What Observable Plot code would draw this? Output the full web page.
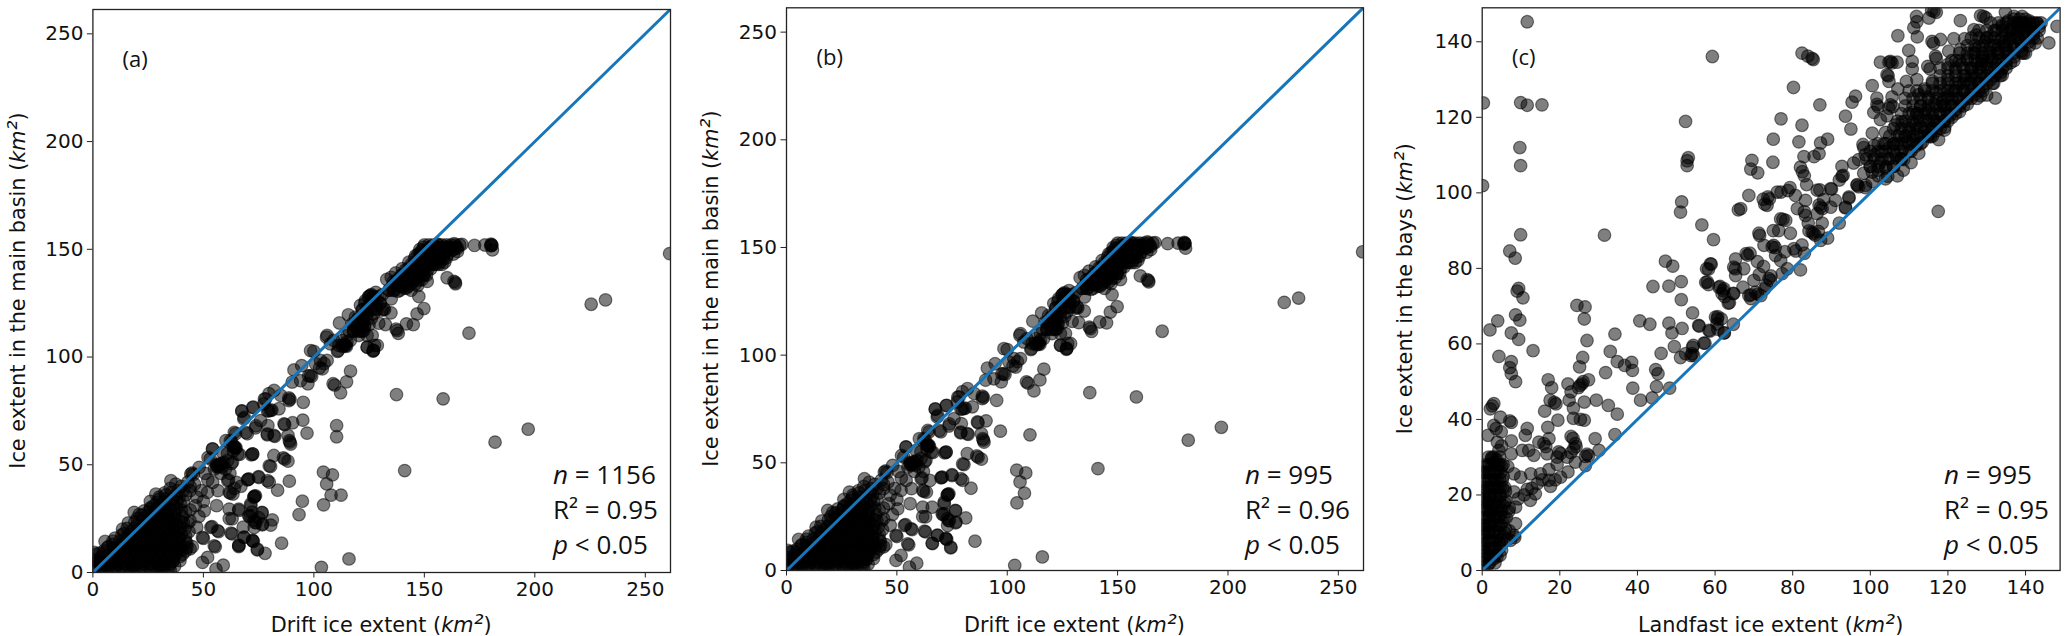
<!DOCTYPE html>
<html><head><meta charset="utf-8">
<script src="https://cdn.jsdelivr.net/npm/d3@7"></script>
<script src="https://cdn.jsdelivr.net/npm/@observablehq/plot@0.6"></script>
<style>
html,body{margin:0;padding:0;background:#fff;overflow:hidden}
#fig{position:relative;width:2067px;height:636px}
#fig svg{position:absolute;top:0;background:#fff;overflow:visible}
</style></head><body><div id="fig"></div>
<script>
// ---- Panels (a) and (b): [drift ice extent, ice extent in the main basin] ----
const driftOutliers = [[261,148],[225.5,124.5],[232,126.5],[170.2,111.1],[197,66.5],[182,60.5],[158.5,80.6],[137.4,82.6],[141.1,47.3],[115.9,6.3],[103.4,2.4],
 [172.7,151.8],[177.4,152],[180.4,152],[180.2,152.4],[180.6,151.8],[180,151.6],[180.8,149.7],[116.6,93.5],[114.8,88.5],[109.4,87],[112.1,83.4],[95.2,79],[110.3,63],[96.9,64.7],[104.3,46.6],[108.4,45.3],[105.8,41.1],[107.8,35.9],[104.4,31.4],
 [160.3,136.8],[163.4,135.1],[164,134.6],[164.1,134],[151.3,135.1],[147,133.2],[147.5,128.1],[149.8,122.5],[146.7,120],[145,115],[141.9,115.4],[137.7,112.3],[138.2,111],[137.2,113],[132.4,115.1],[129.4,115.7],[135,127],[127.4,105.4],[126.8,102.7],[127,103.2],[124.1,104.6]];
const driftCloud = [[90.4,69.5],[86.5,69],[86.8,68.6],[88.7,79.8],[89.2,80.4],[81.9,63.6],[82.3,63.2],[78.9,63.9],[88.3,63.6],[89.2,60.5],[89.5,59.6],[88.9,61.2],[81.9,54.3],[86.2,53.2],[86.8,52.6],[88.3,51.7],[80.4,49.2],[71.7,54.6],[72.3,55],[79.8,41.9],[75,44.5],[70.2,43.2],[70.6,43.4],[83.6,38.2],[73.2,35.3],[72.8,34.9],[73.6,35.6],[71.4,31.8],[76.6,27.7],[81.2,24.4],[72.9,24.1],[73.4,23.2],[76.6,22.1],[71.4,26.4],[63,24.9],[85.4,13.6],[72.6,14.4],[72.2,15],[68.3,16.4],[74.4,10.5],[66.1,12.5],[63,17.9],
 [98.5,103],[106,98.4],[111,103],[103.8,94.5],[99,91],[97.3,87.6],[94,89],[91,94],[90.2,88.4],[82,84.5],[78.2,80.6],[80.4,75.2],[79.6,75],[81,75.4],[67.4,74.9],[72.6,76.7],[68.3,71.3],[73.6,67.1],[69.9,64.4],[64.6,64.4],[114.4,105.4],[114.8,105],[113.9,105.8],[126.9,103],[124.2,104.6],[128.7,105.4],[79.7,83],[85,82.2],[88.7,81],[77.4,78.3],[84.2,76],[75.9,70.5],[79.2,68.2],[97.6,91.3],[100,102.6],[104.6,97],[102.6,95],[94.5,96],[108.7,87.6],[105.7,109.2],[111.6,115.8],[115.6,119.6],[112.7,105.5],[113.2,104.8],[110.7,102.6],
 [125.6,128.6],[126,129],[128.6,126.2],[131.6,122.4],[132,122],[131,121.8],[127.9,122.4],[124.8,128],[123.3,126.2],[121.1,124],[122.6,118.5],[121.1,115.4],[122.6,112.3],[119.6,113.9],[124.1,110],[126.4,110],[120.3,110],[117.3,115.4],[118.8,118.5],[115,110],[114.3,105.4],[112.8,107.7],[116.5,107.7],[115,107],[109,107.7],[106,110],[107.5,106.1],[111.3,105.4],[103,98.4],[100.7,96.9],[98.4,91.4],[121.8,114.9],[122.2,115.5],[121.4,114.3],[122,117],[120,117.5],[124,120],[126,118],[118,112],[119,115],[123,114],[121,112],[134.9,120.5],[128,124],[130,125],[125,124],[122,122],[127,120]];
const driftLow = [[72.3,76.6],[67.4,75],[77.6,80.5],[79,75],[68.5,72],[73.8,68.1],[69.3,65],[79,64.3],[60.2,61.2],[64,65],[54.2,57.3],[58.7,55.7],[64,58],[64.4,57.6],[63.6,58.2],[72.3,55],[66.4,54.8],[56.4,49.5],[56.8,49],[55.9,50],[57.2,49.9],[62.7,50.5],[63.2,51.3],[52.1,53.4],[48.1,48.8],[44.3,45.7],[44.9,46.2],[45.5,45.5],[79.8,49.5],[70,43],[75,44.1],[79,42.6],[54.2,41.8],[61,42.6],[61.4,43],[65,41.8],[35.3,42.6],[56.6,38],[61.7,37.2],[62.2,36.8],[51.9,37.2],[63.4,36.4],[73,35.3],[71.5,31],[56,31],[50.4,28.6],[61.7,29.4],[66,29.4],[76.5,27.9],[70.5,26.3],[70.9,25.9],[61.7,25],[73.8,23.2],[76.8,22.5],[73,20.9],[53.4,20.9],[53.9,21.3],[56.4,19.4],[56.9,19],[62.5,18.3],[68.5,16.3],[72.3,14.7],[66,12.7],[49.6,16.3],[50,15.8],[54.9,12.4],[55.4,11.9],[74.5,10.8],[51.9,7],[49.6,4.7],[59,3.4],[55.7,1.6],
 [62.2,61.2],[62.8,60.6],[64.2,58.4],[64.8,57.8],[65.6,55],[63.6,56.4],[60.9,55.2],[54.1,57.4],[53.1,52.7],[58.2,50.3],[60,48],[58,46],[62,46],[50.8,46],[52,43],[46,41],[49,38],[47,35],[50,33],[46.4,31],[44,29],[48,26],[44,24],[47,21],[43.5,19],[42,36],[44,38],[41,33],[40,40],[38,36],[42,28],[56,49],[57.5,50.5],[58.5,49],[55,48],[59,51],[61,52]];
const driftBlob = [[0.6,9.3],[5.5,14.4],[13.4,20.1],[18.7,27.9],[23.2,28.6],[28.5,36.4],[26,33],[30,35],[21,27],[16,23],[10,16],[7,12],[3,9],[1,6],[0.8,3],[3,4],[2,1.5],[5,1],[5.5,4],[4,7],[7,7.5],[8,1.2],[8.2,4],[9.8,7],[11,1],[11,3.8],[10,10.4],[12.5,7],[13.8,1.4],[14,4],[13,10],[12.8,13],[15.5,7.2],[17,1],[16.8,4],[16,10],[15.8,13],[15,16],[18.5,7],[20,1.3],[19.8,4],[19,10.2],[18.7,13],[18,16],[17.5,19],[21.5,7],[23,1],[23,4],[22,10],[21.6,13],[21,16],[20.5,19],[20,22],[24.5,7],[26,1.2],[25.8,4],[25,10],[24.7,13],[24,16],[23.5,19],[23,22],[22.5,25],[27.5,7],[29,1],[29,4],[28,10],[27.6,13],[27,16],[26.5,19],[26,22],[25.5,25],[25,28],[30.5,7],[32,1.2],[31.8,4],[31,10],[30.7,13],[30,16],[29.5,19],[29,22],[28.5,25],[28,28],[27.5,31],[33.5,7],[35,1.3],[34.8,4],[34,10],[33.6,13],[33,16],[32.5,19],[32,22],[31.5,25],[31,28],[30.5,31],[30,34],[36.5,7],[37,3],[37,10],[36.6,13],[36,16],[35.5,19],[35,22],[34.5,25],[34,28],[33.5,31],[33,34],[32.5,37],[39.5,7.5],[40,10.4],[39.5,13],[39,16],[38.5,19],[38,22],[37.5,25],[37,28],[36.5,31],[36,34],[35.5,37],[35,39],[42,10],[44,11],[42.5,13.5],[42,17],[41.5,20],[41,23],[40.5,26],[40,29],[39.5,32],[39,35],[38.5,38],[43,23],[45,12],[37.5,41],[41,38],[43,42],[44,40],[33,36],[26,30],[20,25],[14,18],[9,13],[5,10],[2,5],[6,3],[12,5],[18,3],[24,5],[30,3],[36,5],[15,11],[21,12],[27,11],[33,12],[39,11],[19,17],[25,18],[31,17],[37,18],[24,22],[30,23],[36,23],[28,26],[34,27],[32,31]];
// the solid black wedge near the origin, read as rows: [y, [x, x, ...]]
const driftBlobRows = [
 [2.5,[1.5,4.6,7.4,10.5,13.3,16.6,19.4,22.7,25.5,28.4,31.6,34.5]],
 [5.5,[2.5,6.4,9.6,12.4,15.6,18.5,21.3,24.6,27.5,30.4,33.6,36.5,39.4]],
 [8.5,[1.5,4.4,7.6,10.5,13.4,16.6,19.5,22.4,25.6,28.5,31.4,34.6,37.5,40.6]],
 [11.5,[6.6,9.4,12.5,15.6,18.4,21.5,24.6,27.4,30.5,33.6,36.4,39.5,42.6]],
 [14.5,[9,12.1,15,17.9,21,24.1,27,30,32.9,36,39.1,42]],
 [17.5,[13.1,16,19,21.9,25,28.1,31,34,36.9,40]],
 [20.5,[15.5,18.6,21.5,24.4,27.5,30.6,33.5,36.4,39.5]],
 [23.5,[19,22.1,25,28,30.9,34,37.1,40]],
 [26.5,[22,25.1,28,31,33.9,37]],
 [29.5,[26,29.1,32,34.9,38]],
 [32.5,[29,32.1,35,38]]];
const driftTop = [[150,152],[152,152],[154,152],[156,152],[158,152],[160,152],[162,152],[164,152],[166,152],[167,152.3],[163.5,152.6],[155,150],[158,150],[161,150],[163,150],[165,150.5],[150,149],[153,148],[156,148],[159,148],[148,147],[151,146],[154,146],[157,146],[160,146],[146,144],[149,144],[152,144],[155,143],[158,143],[144,142],[147,141],[150,141],[153,141],[142,140],[145,139],[148,138],[151,138],[140,138],[143,137],[146,136],[149,136],[138,136],[141,135],[144,134],[136,135],[139,133],[142,132],[135,137],[137,139],[140,141],[143,144],[146,147],[148,150],[152,150],[165,149],[163.2,147.8],[159.2,144],[157,144],[154.5,149],[151,148],[149,146],[147,143],[145,141],[143,140],[141,138],[139,136],[137,134.5],[153,150.8],[156,150.6],[159,150.4],[155,145],[153,143],[150,138],[148,140],[146,134],[144,131],[141,132],[138,130.5],[136,131],[134,131],[133,136],[131,129],[128,130],[127,128],[148,148.5],[156,152.4],[160,151],[157,149]];
const driftTopRows = [
 [151,[149.5,152.5,155.5,158.5,161.5,164.5]],
 [149.5,[149,151.5,154,157,160,162.5]],
 [147.5,[147,149.5,152,155,158,160.5]],
 [145.5,[145.5,148,150.5,153,156,158.5]],
 [143,[144,146.5,149,151.5,154,156.5]],
 [140.5,[141.5,144,146.5,149,151.5]],
 [138,[139.5,142,144.5,147,149.5]],
 [135.5,[137.5,140,142.5,145,147.5]],
 [133,[135.5,138,140.5,143]],
 [131,[134,136.5,139]],
 [128,[125,127,129]],
 [125,[123,125.5,127.5,130]],
 [122,[122,124,126,128.5]],
 [118,[120,122,124]],
 [115,[118,120,123,125]],
 [112,[116,118,120,122]]];
// points plotted only in panel (a), which has 161 more dates than panel (b)
const driftOnlyA = [[110.3,68.2],[95,70.7],[93.3,26.9],[94.8,33.1],[112.3,35.9],[66.1,28.8],[88.9,42.4],[77.9,8.9],[68,21],[66,12],[80.5,22],[75,25.5],[72,28],[64,39],[67,40]];

// ---- Panel (c): [landfast ice extent, ice extent in the bays] ----
const landfastSparse = [[11.6,145.3],[59.3,136.1],[82.4,137],[83.9,136.2],[85,135.6],[85.3,135.3],[80.2,127.9],[0.3,123.8],[9.9,123.9],[11.6,123.2],[15.4,123.3],[9.7,112],[9.9,107.2],[0.1,101.9],[9.9,88.9],[31.5,88.8],[7.1,84.6],[8.5,82.7],[9.4,74.7],[9,74],[10.5,72.2],[8.6,67.7],[9.7,66.3],[4,66.1],[2,63.7],[7.5,62.9],[9.4,61.2],[13.1,58.2],[4.3,56.7],[7.5,55.3],[7.1,53.7],[7.5,52.1],[8.6,50],
 [52.4,118.9],[53.1,109.3],[52.8,108.5],[52.8,107.2],[51.4,97.6],[51.1,94.9],[56.6,91.5],[59.6,87.6],[47.2,81.9],[49.1,80.6],[59,81.1],[58.3,79.8],[57.6,76.3],[58.3,75.7],[51.3,76.5],[44,75.2],[48.1,75.3],[51.3,71.7],[61.3,75.2],[62.1,74.1],[62.5,72.5],[63.7,70.9],[64.7,73.4],[54.2,68.2],[40.6,66.1],[43.2,65.2],[48.1,65.5],[51.5,64.1],[48.9,62.9],[55.9,64.7],[58.7,63.4],[60.7,67.2],[61.6,66.6],[60.7,63.9],[62.4,62.9],[64.7,65.2],[49.5,59.3],[51.1,56.4],[54.2,59.1],[54.5,56.9],[57.4,60.2],[46.1,57.5],[34.2,62.6],[33,58],[31.8,52.4],[34.8,55.3],[36.7,54.3],[38.5,55.1],[38.7,53],[44.7,53.2],[45.3,52.1],[44.9,48.7],[48.3,48.3],[38.8,48.3],[40.8,45.1],[43.8,45.7]];
const landfastLow = [[24.4,70.2],[26.5,69.8],[26.3,66.6],[27,60.9],[25.9,56.4],[25.1,53.9],[17,50.5],[17.9,48.4],[22.1,49.4],[25.7,49.4],[25.2,49],[24.8,48.4],[26,50],[27.4,50.5],[22.9,47.3],[29.4,45.1],[32.5,43.7],[34.8,41.4],[16.1,42.2],[17.5,45.1],[19,44.1],[18.6,44.5],[19.5,39.8],[16.9,37.9],[22.4,45.1],[26.3,44.6],[23.5,43],[23.5,40.3],[26.3,39.8],[25.3,40],[22.9,35.5],[23.4,35],[34.2,36],[29.1,34.9],[11.6,37.6],[11.1,35.8],
 [2.1,42.8],[3,44.2],[2.6,43.6],[4.7,40.6],[7.1,39.6],[7.5,39.2],[3,38.4],[4.9,36.7],[3.6,37.6],[1.5,35.8],[7.5,34.3],[3.9,34],[4.3,31.8],[5,33],[2.5,30],[14.6,34],[17.2,34.9],[15.9,33.6],[16.4,32.8],[12,31.8],[10.3,31.8],[13.3,30.5],[7.5,30.9],[16.7,30.9],[19.7,31.4],[20.2,31],[19.3,30],[21.9,30],[23.6,32.3],[24,33.6],[24.2,32.8],[22.9,31.2],[27,30.8],[26.6,30.2],[27.4,30.4],[30.1,31.8],[24,28.7],[26.6,27.8],[8.2,25.6],[9.9,24.7],[12.5,25.6],[15,25.6],[17.2,26.7],[19.3,28.1],[22.1,26.1],[20.2,24.7],[17.2,23.9],[17.6,22.3],[14.2,23],[11.6,21.5],[8.2,20.8],[13.7,20.3],[12.4,18.6],[8.6,16.8],[7,16.5],[8.6,12.4],[8.2,9.3],[8.4,8.8],[7.3,8],[12.8,21.8],[10.8,20],[9.3,19],[15.5,24],[18.8,24]];
const landfastColumn = [[0.5,1],[1.5,1.5],[2.8,3],[0.3,3],[1.6,3.6],[0.6,5],[2,5.5],[3.5,5.8],[4.4,7],[0.2,7],[1.4,7.6],[2.8,8],[4,9],[5.4,9],[0.5,9.5],[1.8,10],[3.2,10.5],[0.3,12],[1.4,12],[2.6,12.5],[4.2,12],[5.2,12.8],[6,11],[0.5,14],[1.9,14.4],[3.4,14.6],[4.8,15],[6.2,14],[0.2,16.5],[1.2,16.4],[2.6,17],[4,17],[5.4,17.2],[0.4,19],[1.8,19],[3.2,19.4],[4.6,19.6],[6,18.5],[0.2,21],[1.2,21.4],[2.6,21.6],[4,21.6],[5.2,22],[0.5,23.5],[1.8,24],[3.2,24],[4.5,24.2],[6,21],[0.3,26],[1.4,26],[2.8,26.4],[4,26.5],[5.4,25],[1.8,28],[3.2,28.4],[4.4,28.2],[2.4,29.6],[3.6,29.4],[5,27.6],[0.8,27.5],[6.6,27.5],[1,11],[2.2,15.6],[3,22.5],[1.4,18],[3.8,3.6],[5,5.4],[6.4,8.2],[7,10.5],[6.8,15.6]];
const landfastColumnRows = [
 [2,[0.4,1.9,3.3]],[4,[0.6,2.1,3.4,4.6]],[6,[0.3,1.7,3,4.4]],[8,[0.5,2,3.6,5]],[10,[0.3,1.4,2.8,4.4,5.8]],
 [12,[0.6,2,3.4,4.8]],[14,[0.3,1.5,2.7,4.2,5.6]],[16,[0.6,2.2,3.6,5]],[18,[0.4,1.6,3,4.4,5.8]],[20,[0.5,2,3.4,4.8]],
 [22,[0.3,1.6,3.2,4.6,5.8]],[24,[0.6,2.4,3.8,5.2]],[26,[0.4,2,3.4,4.8]],[28,[1,2.6,4,5.4]],[30,[1.6,3,4.5]]];
const landfastMid = [[68.7,99.3],[66.6,95.8],[73.6,98.9],[74,98.4],[73.4,96.7],[76,100.2],[79.3,101.4],[80.7,99.3],[81.2,95.8],[83.3,98],[83.3,94],[86.3,100.7],[87.2,96.2],[87.6,95.8],[86.8,96.8],[86.3,94.5],[89.8,101.1],[89.8,96.2],[93.6,96.2],[94.5,98.9],[96.6,102],[97,101.6],[98.8,102],[76.9,93.1],[78.2,92.7],[71.3,89.3],[71.5,88.7],[76.4,90],[79.4,89.3],[85,89.6],[85.4,89.2],[84.2,89.9],[85.8,88.8],[86.6,89.8],[87.2,87.4],[75.1,86.1],[75.5,85.5],[74.7,85.7],[80.3,85.2],[80.8,84.6],[72.6,86.1],[82.4,86.2],[76.9,82.1],[75.6,83.4],[68,83.9],[68.4,83.5],[65.3,82.5],[64.8,80.3],[65.2,79.9],[67.4,79.9],[65.3,78.1],[70.9,81.8],[73.9,77.3],[74.3,76.8],[74.4,78],[73.2,75.5],[72.8,74.6],[70.4,73.7],[71,73.2],[68.7,72.8],[69.2,73],[71.8,72.8],[69.2,72],[70,76.8],[67.2,75],[78.6,79.9],[77.3,78.6],[82,79.6],[58.8,81.2],[57.8,79.9],[58,76.4],[61,75],[62.3,74.6],[61.8,73.3],[64.8,73.3],[63.4,70.8],[60.1,67.1],[60.6,66.6],[60.5,65.3],[55.8,64.9],[58.4,63.6],[62.3,62.9],[57.1,60.2],[54.4,59.6],[54.1,57.4],[53.8,56.9],[52.4,57.4],[87.6,92],[84,92],[83,84],[78,84.4],[89,88],[92,92],[91,98],[88,98.2],[77,119.6],[82.4,117.9],[81.6,113.5],[87.2,113.2],[89,114.2],[86.8,110.4],[85.5,109.6],[82.9,109.6],[75,114.2],[74.9,108.1],[69.5,108.6],[69.2,106.3],[71,105.3],[82,106.8],[82.5,105.6],[83,104.5],[83.6,102.2],[87,100.8],[90,101],[92,103.4],[93,104.6],[77,100.2],[72.4,98.3],[72.8,97],[66,95.5],[78.8,100.6],[83,95],[77.5,93],[75,90],[69,84],[72.5,80.5],[71.4,78.4],[87,123.3]];
const landfastHigh = [[117.5,95.1],[146,139.7],[148.1,144.1],[123.2,145.6],[107.1,141.6],[112.1,141.3],[111.2,143.7],[111.9,146.7],[116.4,148.1],[115.8,148.3],[117,147.8],[115.1,146.3],[112,145.3],[109.9,137.7],[102.6,134.6],[105.2,134.8],[105.6,134.4],[104.8,134.6],[106.9,134.6],[110.8,134.8],[110.8,132.8],[104.3,131.3],[104.6,131],[104.8,129.5],[114.8,133.5],[115.4,132.8],[116.8,136.2],[117,135.6],[115.9,140.1],[116.3,139.6],[118.1,140.6],[121.5,140.8],[124.3,140.8],[120.2,137.5],[123.2,137.9],[126.7,143.2],[127.3,141.8],[129.2,146.7],[129.8,146.3],[128.4,146.9],[134.8,147.8],[137,146.7],[139.1,146.7],[100.5,128.4],[107.1,127.5],[109.3,129.5],[96.2,125.6],[95.3,124],[93.6,120.3],[95,116.9],[101.7,125.1],[101.7,123.4],[102,122.8],[105.6,125.4],[105.2,123.3],[105.8,122.8],[100.9,121.3],[102.6,119.4],[104.3,120.4],[104.8,122.4],[100.5,115.8],[103.9,116],[106.5,118],[108.2,118.8],[98.1,112.8],[98.7,110.1],[98.3,112],[97,108.8],[95.7,107.9],[92.7,107],[92.7,104.4],[98.3,105.2],[100.5,103],[96.6,102.2],[98.7,101.4],[94.5,98.6],[93.6,96],[103.9,103.7],[117.6,114.1],[115.5,114.8],[119.1,116.6],[111.6,112.3],[108.6,108.8],[128.4,125.7],[130,125.9],[132.2,125.1],[127.5,125],[133.5,131.7],[134,131.2],[131.8,129],[136.1,134.4],[139.5,137],[142.5,139.7],[120,134],[122,135],[118,133],[116,129.5],[114,127.5],[112,130],[127,138],[130,141],[134,144],[138,145],[141,144.5],[142,142],[139,140],[135.5,137.5]];
const landfastBand = [[100,107],[101,110],[102.5,108],[103,111],[104,106.5],[104.5,109],[105,112],[106,107],[106.5,110],[107,113],[100.5,105.5],[102,106],[108,109],[108.5,112],[107.5,115.5],[109.5,113.5],[110,116],[110.5,111],[111,114],[111.5,118],[112,115.5],[112.5,120],[113,117.5],[113,123],[113.5,113.5],[114,116],[114.5,119],[115,122],[115,125.5],[116,117],[116,120],[116.5,123.5],[117,126.5],[117.5,118],[118,121],[118.5,124],[119,127.5],[119,119],[119.5,122],[120,125],[120,130],[120.5,120.5],[121,123],[121.5,127],[122,132],[122,122],[122.5,125],[123,129],[123.5,134],[123.5,124],[124,127],[124.5,131],[125,135.5],[125,125.5],[125.5,129],[126,133],[126.5,137],[126.5,127.5],[127,130.5],[127.5,134.5],[128,138.5],[128,129],[128.5,132],[129,136],[129.5,140],[129.5,130.5],[130,134],[130.5,137.5],[131,141.5],[131,132],[131.5,135.5],[132,139],[132.5,143],[132.5,134],[133,137],[133.5,140.5],[134,144.5],[134,135.5],[134.5,139],[135,142],[135.5,145.5],[135.5,137],[136,140.5],[136.5,143.5],[137,146],[137,138.5],[137.5,142],[138,144.5],[138.5,146],[138.5,140],[139,143],[139.5,145],[140,146],[140,141.5],[140.5,144],[141,145.5],[141.5,143],[142,145],[143,144.8],[143.5,144],[144,145],[128.6,135],[130.4,136],[132.6,138],[134.6,140],[136.6,142],[138.6,143],[122.4,128],[124.6,130],[126.4,132],[128.6,134],[118.2,123],[120,125.6],[116.4,119],[114.2,122],[112,121],[111,121.4],[112.5,126],[110,118],[109,115],[106,113],[103.5,113],[101,112.5],[102,104.5],[104.5,104.4],[107,104.5],[108.5,106],[110.5,108],[112.5,110.5],[115,115.5],[117,116.4],[119.2,117.4],[121,120],[123,121.5],[125,123.5],[127,126],[129,128],[131,130],[133,132],[135,134],[137,136],[139,137.6],[141,140],[143,141]];
const landfastBandRows = [
 [145,[131,133,135,137,139,141,143]],
 [143,[128,130,132,134,136,138,140,142,143.5]],
 [141,[126,128,130,132,134,136,138,140,142]],
 [139,[125,127,129,131,133,135,137,139,141]],
 [137,[123,125,127,129,131,133,135,137,139,140]],
 [135,[121,123,125,127,129,131,133,135,137]],
 [133,[120,122,124,126,128,130,132,134,135]],
 [131,[118,120,122,124,126,128,130,132,133.5]],
 [129,[116,118,120,122,124,126,128,130,131.5]],
 [127,[110,112,114,116,118,120,122,124,126,128,129]],
 [125,[109,111,113,115,117,119,121,123,125,126]],
 [123,[109,111,113,115,117,119,121,123,124]],
 [121,[108,110,112,114,116,118,120,122]],
 [119,[107,109,111,113,115,117,119,120]],
 [117,[106,108,110,112,114,116,118]],
 [115,[105,107,109,111,113,115,116]],
 [113,[102,104,106,108,110,112,113]],
 [111,[100,102,104,106,108,110]],
 [109,[99,101,103,105,107,108]],
 [107,[100,102,104,106]]];

const fromRows = rows => rows.flatMap(([y,xs]) => xs.map(x => [x,y]));
const panels = [
 {left:0,   w:680, ml:92.4, mr:10, mt:9,   mb:64, xd:261.4, yd:261.3, xt:[0,50,100,150,200,250], yt:[0,50,100,150,200,250],
  pts:[...driftOutliers,...driftCloud,...driftLow,...driftBlob,...fromRows(driftBlobRows),...driftTop,...fromRows(driftTopRows),...driftOnlyA],
  xlab:"Drift ice extent", ylab:"Ice extent in the main basin", tag:"(a)", tagX:13.4, tagY:237.7, n:"1156", r2:"0.95", sx:553, ylx:18},
 {left:690, w:680, ml:96,   mr:7,  mt:7.3, mb:66, xd:261.4, yd:261.3, xt:[0,50,100,150,200,250], yt:[0,50,100,150,200,250],
  pts:[...driftOutliers,...driftCloud,...driftLow,...driftBlob,...fromRows(driftBlobRows),...driftTop,...fromRows(driftTopRows)],
  xlab:"Drift ice extent", ylab:"Ice extent in the main basin", tag:"(b)", tagX:13.6, tagY:237.9, n:"995", r2:"0.96", sx:555, ylx:21.4},
 {left:1380,w:687, ml:101.7,mr:7.4,mt:7.3, mb:66, xd:148.9, yd:149, xt:[0,20,40,60,80,100,120,140], yt:[0,20,40,60,80,100,120,140],
  pts:[...landfastSparse,...landfastLow,...landfastColumn,...fromRows(landfastColumnRows),...landfastMid,...landfastHigh,...landfastBand,...fromRows(landfastBandRows)],
  xlab:"Landfast ice extent", ylab:"Ice extent in the bays", tag:"(c)", tagX:7.7, tagY:135.7, n:"995", r2:"0.95", sx:564, ylx:25}
];

const fig = document.getElementById("fig");
for (const p of panels) {
  const svg = Plot.plot({
    width:p.w, height:636, marginLeft:p.ml, marginRight:p.mr, marginTop:p.mt, marginBottom:p.mb,
    style:{fontFamily:"DejaVu Sans", fontSize:"20px", color:"#111"},
    x:{domain:[0,p.xd], label:null}, y:{domain:[0,p.yd], label:null},
    marks:[
      Plot.dot(p.pts,{x:d=>d[0],y:d=>d[1],r:6.3,fill:"#000",fillOpacity:0.5,stroke:"#000",strokeOpacity:0.5,strokeWidth:1.2,clip:true}),
      Plot.line([[0,0],[Math.max(p.xd,p.yd),Math.max(p.xd,p.yd)]],{x:d=>d[0],y:d=>d[1],stroke:"#1775b9",strokeWidth:3,clip:true}),
      Plot.frame({stroke:"#222",strokeWidth:1.3}),
      Plot.axisX({ticks:p.xt,tickSize:5.5,tickPadding:4,tickFormat:d=>d,label:null,fontSize:20,stroke:"#222"}),
      Plot.axisY({ticks:p.yt,tickSize:5.5,tickPadding:4,tickFormat:d=>d,label:null,fontSize:20,stroke:"#222"}),
      Plot.text([p.tag],{x:p.tagX,y:p.tagY,text:d=>d,textAnchor:"start",fontSize:22,fontFamily:"Open Sans",fill:"#111"})
    ]
  });
  svg.style.left = p.left+"px";
  fig.appendChild(svg);
  const s = d3.select(svg);
  const cx = p.ml+(p.w-p.ml-p.mr)/2, cy = p.mt+(636-p.mt-p.mb)/2;
  const addLabel = (t,text) => {
    t.attr("font-family","DejaVu Sans").attr("font-size",20.8).attr("fill","#111").attr("text-anchor","middle");
    t.append("tspan").text(text+" (");
    t.append("tspan").attr("font-style","italic").text("km");
    t.append("tspan").attr("font-style","italic").attr("font-size",25).text("²");
    t.append("tspan").text(")");
  };
  addLabel(s.append("text").attr("x",cx).attr("y",632),p.xlab);
  addLabel(s.append("text").attr("transform",`translate(${p.ylx+7},${cy}) rotate(-90)`),p.ylab);
  const stat = (y,parts) => {
    const t = s.append("text").attr("x",p.sx).attr("y",y).attr("font-family","Open Sans").attr("font-size",26).attr("fill","#111").attr("text-anchor","start");
    parts.forEach(([txt,it]) => t.append("tspan").attr("font-style",it?"italic":null).text(txt));
  };
  stat(484,[["n",1],[" = "+p.n,0]]);
  stat(519,[["R² = "+p.r2,0]]);
  stat(554,[["p",1],[" < 0.05",0]]);
}
</script></body></html>
